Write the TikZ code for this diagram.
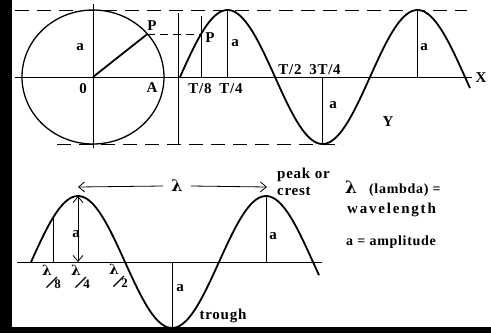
\documentclass[tikz,border=0pt]{standalone}
\usepackage{fontspec}
\setmainfont{Liberation Serif}[LetterSpace=5]
\newfontfamily\widefont{Liberation Serif}[LetterSpace=12]
\newfontfamily\lamfont{DejaVu Serif}
\usetikzlibrary{arrows.meta}

% lambda over n, as in the labels under the lower wave
\newcommand{\lamover}[1]{\raisebox{13pt}{\lamfont\bfseries\fontsize{14}{14}\selectfont λ}\kern-6pt\rotatebox{45}{\rule{15pt}{1.2pt}}\kern-3pt{\fontsize{13}{13}\selectfont #1}}

\begin{document}
\begin{tikzpicture}[
  x=1pt, y=-1pt,
  axis/.style={line width=0.9pt},
  wave/.style={line width=1.8pt, line join=round},
  guide/.style={line width=0.9pt, dash pattern=on 14pt off 8pt},
  proj/.style={line width=0.9pt, dash pattern=on 8pt off 5pt},
  lbl/.style={inner sep=0pt, font=\bfseries\fontsize{15}{15}\selectfont},
  barb/.style={line width=0.8pt, {Straight Barb[length=6pt,width=10pt]}-{Straight Barb[length=6pt,width=10pt]}}
]
  \useasboundingbox (0,0) rectangle (491,333);
  \fill[white] (0,0) rectangle (491,333);

  % reference circle
  \coordinate (O) at (93,77);
  \coordinate (P) at (147.4,34);
  \coordinate (Pw) at (201,34);
  \draw[line width=1.3pt] (O) ellipse [x radius=71, y radius=67];
  \draw[line width=1.8pt] (O) -- (P);
  \draw[axis] (93,4) -- (93,148);
  \draw[proj] (P) -- (Pw);

  % dashed envelope and axes
  \draw[guide] (15,10) -- (467,10);
  \draw[guide] (57,144) -- (343,144);
  \draw[axis] (15,77) -- (472,77);
  \draw[axis] (178,13) -- (178,145);

  % upper wave
  \draw[wave] plot[domain=180:470, samples=120] (\x, {77-67*sin((\x-180)/190*360)});
  \draw[axis] (201,77) -- (201,16);
  \draw[axis] (227.5,10) -- (227.5,77);
  \draw[axis] (322.5,77) -- (322.5,144);
  \draw[axis] (417.5,10) -- (417.5,77);

  \node[lbl] (lP)  at (152,26)  {P};
  \node[lbl] (la1) at (80,47)   {a};
  \node[lbl] (l0)  at (83,89)   {0};
  \node[lbl] (lA)  at (152,88)  {A};
  \node[lbl] (lPw) at (210,38)  {P};
  \node[lbl] (la2) at (235,43)  {a};
  \node[lbl] (lT8) at (200,89)  {T/8};
  \node[lbl] (lT4) at (231,89)  {T/4};
  \node[lbl] (lT2) at (290,70)  {T/2};
  \node[lbl] (l3T) at (325,70)  {3T/4};
  \node[lbl] (la3) at (333,105) {a};
  \node[lbl] (lY)  at (388,122) {Y};
  \node[lbl] (la4) at (424,47)  {a};
  \node[lbl] (lX)  at (481,78)  {X};

  % lower wave
  \draw[axis] (17,262) -- (322,262);
  \draw[wave] plot[domain=31:319, samples=120] (\x, {262-66*sin((\x-31)/188*360)});
  \draw[axis] (53,262) -- (53,218);
  \coordinate (crest1) at (78,196);
  \coordinate (foot1) at (78,262);
  \draw[barb] (crest1) -- (foot1);
  \draw[axis] (172,262) -- (172,328);
  \draw[axis] (266,196) -- (266,262);

  % wavelength arrow
  \coordinate (wl1) at (78,187);
  \coordinate (wl2) at (267,187);
  \node[lbl, inner xsep=8pt, font=\lamfont\bfseries\fontsize{16}{16}\selectfont] (lam) at (177,186) {λ};
  \draw[line width=0.8pt, {Straight Barb[length=6pt,width=10pt]}-] (wl1) -- (lam.west);
  \draw[line width=0.8pt, -{Straight Barb[length=6pt,width=10pt]}] (lam.east) -- (wl2);

  \node[lbl] (lb1) at (76,234)  {a};
  \node[lbl] (lb2) at (180,288) {a};
  \node[lbl] (lb3) at (273,236) {a};
  \node[lbl, anchor=base west] (l8) at (42,288) {\lamover{8}};
  \node[lbl, anchor=base west] (l4) at (71,288) {\lamover{4}};
  \node[lbl, anchor=base west] (l2) at (109,287) {\lamover{2}};
  \node[lbl] (ltr) at (223,316) {trough};
  \node[lbl, anchor=base west] (lpk1) at (277,178) {peak or};
  \node[lbl, anchor=base west] (lpk2) at (277,195) {crest};
  \node[lbl, anchor=base west] (lkey1) at (345,193) {{\lamfont\bfseries\fontsize{17}{17}\selectfont λ}\hspace{12pt}{\fontsize{14}{14}\selectfont (lambda) =}};
  \node[lbl, anchor=base west, font=\widefont\bfseries\fontsize{15}{15}\selectfont] (lkey2) at (347,213) {wavelength};
  \node[lbl, anchor=base west, font=\bfseries\fontsize{14}{14}\selectfont] (lkey3) at (346,245) {a = amplitude};

  % frame edges
  \fill[black] (0,0) rectangle (12,333);
  \fill[black] (0,327) rectangle (491,333);
\end{tikzpicture}
\end{document}
